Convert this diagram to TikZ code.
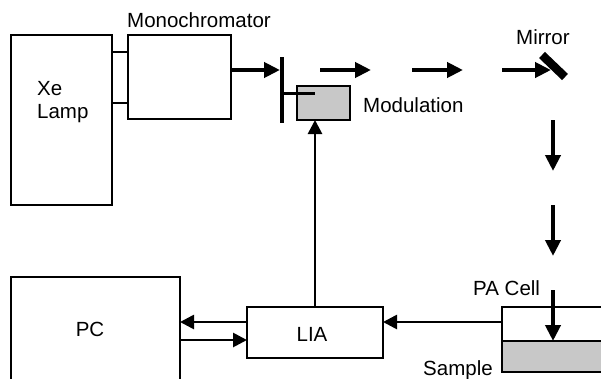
\documentclass[tikz,border=0pt]{standalone}
\usepackage{fontspec}
\setmainfont{Liberation Sans}
\usetikzlibrary{arrows.meta}
\definecolor{fillgray}{HTML}{C8C8C8}
\begin{document}
\begin{tikzpicture}[x=1pt,y=-1pt,
  box/.style={draw,line width=2.9pt,rectangle,inner sep=0pt,outer sep=0pt,anchor=north west},
  lbl/.style={inner sep=0pt,font=\fontsize{20.5}{24}\selectfont},
  beam/.style={line width=4.2pt,-{Triangle[length=16pt,width=15pt]}},
  sig/.style={line width=2.7pt,-{Triangle[length=14pt,width=14pt]}},
  wire/.style={line width=2.7pt}]
\useasboundingbox (0,0) rectangle (601,378);
\clip (0,0) rectangle (601,378);
% boxes
\node[box,minimum width=101pt,minimum height=170pt] (lamp) at (11,35) {};
\node[box,minimum width=103pt,minimum height=84pt] (mono) at (128,35) {};
\node[box,fill=fillgray,minimum width=53pt,minimum height=34pt] (mod) at (297,86) {};
\node[box,minimum width=169pt,minimum height=130pt] (pc) at (11,277) {};
\node[box,minimum width=136pt,minimum height=51pt] (lia) at (247,307) {};
\node[box,minimum width=140pt,minimum height=34pt] (cell) at (502,307) {};
\node[box,fill=fillgray,minimum width=140pt,minimum height=31pt] (sample) at (502,341) {};
% labels
\node[lbl,anchor=base west] (tmono) at (127,27) {Monochromator};
\node[lbl,anchor=base west] (txe) at (37,95) {Xe};
\node[lbl,anchor=base west] (tlamp) at (37,118) {Lamp};
\node[lbl,anchor=base west] (tmirror) at (516,44) {Mirror};
\node[lbl,anchor=base west] (tmod) at (363,112) {Modulation};
\node[lbl,anchor=base] (tpc) at (90,336) {PC};
\node[lbl,anchor=base] (tlia) at (312,341) {LIA};
\node[lbl,anchor=base west] (tcell) at (473,295) {PA Cell};
\node[lbl,anchor=base west] (tsample) at (423,375) {Sample};
% lamp to monochromator
\draw[wire] (lamp.east |- 0,52) -- (mono.west |- 0,52);
\draw[wire] (lamp.east |- 0,103) -- (mono.west |- 0,103);
% chopper
\coordinate (chtop) at (282,57);
\coordinate (chbot) at (282,123);
\coordinate (chmid) at (282,93);
\coordinate (chend) at (315,93);
\draw[line width=4.2pt] (chtop) -- (chbot);
\draw[line width=3pt] (chmid) -- (chend);
\draw[beam] (mono.east |- 0,70) -- (280,70);
% beam
\coordinate (b1s) at (320,70); \coordinate (b1e) at (371,70);
\coordinate (b2s) at (412,70); \coordinate (b2e) at (463,70);
\coordinate (b3s) at (502,70); \coordinate (b3e) at (551,70);
\draw[beam] (b1s) -- (b1e);
\draw[beam] (b2s) -- (b2e);
\draw[beam] (b3s) -- (b3e);
% mirror
\coordinate (m1) at (542,55);
\coordinate (m2) at (565,77);
\draw[line width=8.5pt] (m1) -- (m2);
% down arrows
\coordinate (d1s) at (553,120); \coordinate (d1e) at (553,171);
\coordinate (d2s) at (553,205); \coordinate (d2e) at (553,256);
\coordinate (d3s) at (553,290);
\draw[beam] (d1s) -- (d1e);
\draw[beam] (d2s) -- (d2e);
\draw[beam] (d3s) -- (d3s |- sample.north);
% signals
\draw[sig] (lia.north -| 315,0) -- (mod.south -| 315,0);
\draw[sig] (cell.west |- 0,322) -- (lia.east |- 0,322);
\draw[sig] (lia.west |- 0,322) -- (pc.east |- 0,322);
\draw[sig] (pc.east |- 0,340) -- (lia.west |- 0,340);
\end{tikzpicture}
\end{document}
